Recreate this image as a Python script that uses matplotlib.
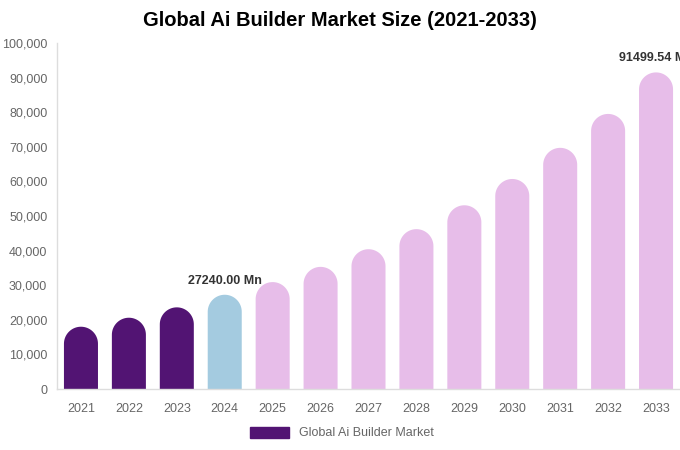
import numpy as np
import matplotlib.pyplot as plt
from matplotlib.patches import Polygon, Patch
from matplotlib.ticker import FuncFormatter

# market size, USD Mn
years = ['2021', '2022', '2023', '2024', '2025', '2026', '2027',
         '2028', '2029', '2030', '2031', '2032', '2033']
values = [18000, 20600, 23600, 27240.00, 30900, 35300, 40400,
          46200, 53100, 60700, 69700, 79500, 91499.54]
labelled = {'2024': '27240.00 Mn', '2033': '91499.54 Mn'}

dark = '#521473'
blue = '#a4cbe0'
lav = '#e7bde9'
colors = [dark] * 3 + [blue] + [lav] * 9

plt.rcParams['font.family'] = ['Liberation Sans', 'DejaVu Sans']

fig = plt.figure(figsize=(6.8, 4.5), dpi=100)
ax = fig.add_axes([57 / 680, 61 / 450, 623 / 680, 346 / 450])
ax.set_xlim(-0.5, len(years) - 0.5)
ax.set_ylim(0, 100000)

# rounded bar tops: half ellipse that looks round in pixels
bw = 0.71
px_per_x = 623 / len(years)
px_per_y = 346 / 100000
r_y = (bw * px_per_x / 2) / px_per_y
t = np.linspace(0, np.pi, 40)

for i, (v, c) in enumerate(zip(values, colors)):
    top = v - r_y
    xs = np.concatenate([[i + bw / 2], i + bw / 2 * np.cos(t), [i - bw / 2]])
    ys = np.concatenate([[0], top + r_y * np.sin(t), [0]])
    ax.add_patch(Polygon(np.column_stack([xs, ys]), closed=True, color=c, linewidth=0))
    if years[i] in labelled:
        ax.text(i, v + 14 / px_per_y, labelled[years[i]], ha='center', va='center',
                fontsize=9, fontweight='bold', color='#333333', clip_on=False)

ax.set_xticks(range(len(years)))
ax.set_xticklabels(years)
ax.set_yticks(range(0, 100001, 10000))
ax.yaxis.set_major_formatter(FuncFormatter(lambda v, p: f'{int(v):,}'))
ax.tick_params(length=0, labelsize=9, labelcolor='#666666')
ax.tick_params(axis='x', pad=10)
ax.tick_params(axis='y', pad=7)

for s in ['top', 'right']:
    ax.spines[s].set_visible(False)
for s in ['left', 'bottom']:
    ax.spines[s].set_color('#dddddd')
    ax.spines[s].set_linewidth(1)

fig.suptitle('Global Ai Builder Market Size (2021-2033)', fontsize=14.5,
             fontweight='bold', x=0.5, y=1 - 21 / 450, va='center')

fig.legend(handles=[Patch(color=dark, label='Global Ai Builder Market')],
           loc='center', bbox_to_anchor=(0.503, 1 - 433 / 450), frameon=False,
           fontsize=9, labelcolor='#666666', handlelength=3.1, handleheight=1.0)

fig.savefig('out.png', dpi=100)
